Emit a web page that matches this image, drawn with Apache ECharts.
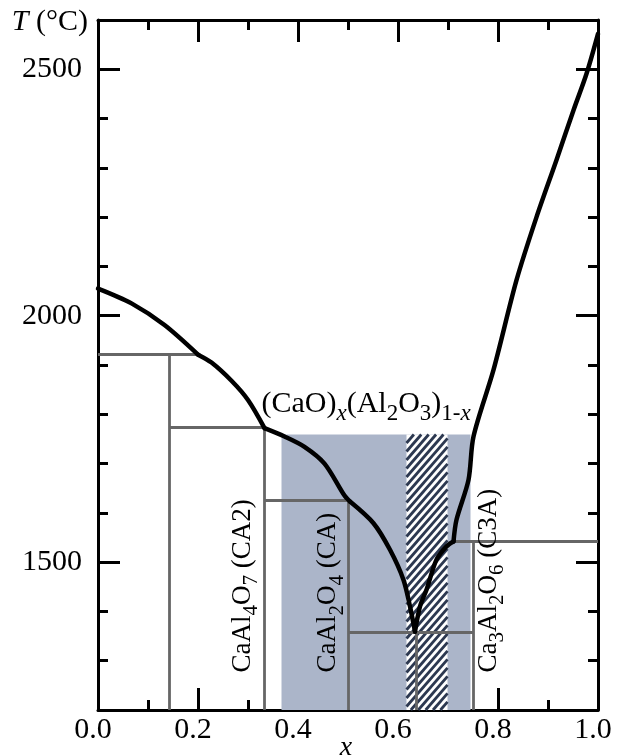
<!DOCTYPE html>
<html><head><meta charset="utf-8">
<script src="https://cdn.jsdelivr.net/npm/echarts@6/dist/echarts.min.js"></script>
<style>html,body{margin:0;padding:0;background:#fff}#c{width:619px;height:756px}</style>
</head><body><div id="c"></div>
<script>
// ---- data ----
const xMajorTicks = [0, 0.2, 0.4, 0.6, 0.8, 1.0];
const yMajorTicks = [1500, 2000, 2500];
// liquidus curve [x, T(°C)], split at its kinks
const liquidusCA6 = [[0, 2055], [0.067, 2025], [0.133, 1981], [0.2, 1921]];
const liquidusCA2 = [[0.2, 1921], [0.227, 1905], [0.267, 1868], [0.3, 1829], [0.333, 1772]];
const liquidusCA = [[0.333, 1772], [0.373, 1755], [0.413, 1734], [0.453, 1700], [0.493, 1635], [0.504, 1623]];
const liquidusEut = [[0.504, 1623], [0.551, 1579], [0.584, 1525], [0.611, 1464], [0.624, 1410], [0.634, 1359]];
const liquidusC3A = [[0.634, 1359], [0.644, 1410], [0.657, 1444], [0.677, 1505], [0.697, 1532], [0.711, 1542]];
const liquidusCaO = [[0.711, 1542], [0.717, 1586], [0.741, 1667], [0.751, 1755], [0.791, 1890], [0.837, 2072],
  [0.877, 2200], [0.917, 2316], [0.951, 2417], [0.977, 2491], [1.0, 2572]];
// gray phase-boundary segments
const phaseLines = [
  [[0, 1921], [0.205, 1921]],
  [[0.143, 1921], [0.143, 1200]],
  [[0.143, 1773], [0.333, 1773]],
  [[0.333, 1773], [0.333, 1200]],
  [[0.333, 1625], [0.502, 1625]],
  [[0.5, 1625], [0.5, 1200]],
  [[0.5, 1357], [0.75, 1357]],
  [[0.636, 1357], [0.636, 1200]],
  [[0.711, 1542], [1.0, 1542]],
  [[0.75, 1542], [0.75, 1200]]
];
// regions [x0, x1, T0, T1]
const shadedRegion = [0.367, 0.745, 1200, 1759];
const hatchedRegion = [0.617, 0.699, 1200, 1759];
// text labels
const labelTexts = [
  '{m|(CaO)}{sx|x}{m|(Al}{s|2}{m|O}{s|3}{m|)}{s|1-}{sx|x}',
  '{m|CaAl}{s|4}{m|O}{s|7}{m| (CA2)}',
  '{m|CaAl}{s|2}{m|O}{s|4}{m| (CA)}',
  '{m|Ca}{s|3}{m|Al}{s|2}{m|O}{s|6}{m| (C3A)}'
];
const labelAnchors = [[0.327, 1852], [0.262, 1276], [0.433, 1276], [0.754, 1276]];
const labelRotations = [0, 90, 90, 90];

// ---- chart ----
const FONT = 'Liberation Serif';
function richFor(big, small, pad) {
  return {
    m: { fontFamily: FONT, fontSize: big, lineHeight: big, verticalAlign: 'top', fill: '#000' },
    s: { fontFamily: FONT, fontSize: small, verticalAlign: 'top', padding: [pad, 0, 0, 0], fill: '#000' },
    sx: { fontFamily: FONT, fontStyle: 'italic', fontSize: small, verticalAlign: 'top', padding: [pad, 0, 0, 0], fill: '#000' }
  };
}
const richMain = richFor(30, 23, 14);
const richVert = richFor(27, 21, 12);

const axisLineStyle = { color: '#000', width: 3 };
function xAx(pos, major, withLine, withLabel) {
  return {
    type: 'value', min: 0, max: 1, interval: 0.1, position: pos,
    axisLine: { show: withLine, onZero: false, lineStyle: axisLineStyle },
    axisTick: Object.assign({ show: true, inside: true, length: major ? 22 : 10, lineStyle: { color: '#000', width: 3 } },
      major ? { customValues: xMajorTicks } : {}),
    axisLabel: withLabel ? {
      customValues: xMajorTicks, formatter: v => v.toFixed(1), margin: 5,
      fontFamily: FONT, fontSize: 30, color: '#000', verticalAlign: 'top', padding: [0, 10, 0, 0]
    } : { show: false },
    splitLine: { show: false },
    name: withLabel ? 'x' : '', nameLocation: 'middle', nameGap: 24, nameMoveOverlap: false,
    nameTextStyle: { fontFamily: FONT, fontStyle: 'italic', fontSize: 28, color: '#000', verticalAlign: 'top', padding: [0, 4, 0, 0] }
  };
}
function yAx(pos, major, withLine, withLabel) {
  return {
    type: 'value', min: 1200, max: 2600, interval: 100, position: pos,
    axisLine: { show: withLine, onZero: false, lineStyle: axisLineStyle },
    axisTick: Object.assign({ show: true, inside: true, length: major ? 22 : 10, lineStyle: { color: '#000', width: 3 } },
      major ? { customValues: yMajorTicks } : {}),
    axisLabel: withLabel ? {
      customValues: yMajorTicks, margin: 16, formatter: v => String(v),
      fontFamily: FONT, fontSize: 30, color: '#000'
    } : { show: false },
    splitLine: { show: false },
    name: withLabel ? '{i|T} (°C)' : '', nameLocation: 'end', nameGap: -2, nameMoveOverlap: false,
    nameTextStyle: {
      fontFamily: FONT, fontSize: 30, color: '#000', align: 'right', verticalAlign: 'middle', padding: [0, 10, 0, 0],
      rich: { i: { fontFamily: FONT, fontStyle: 'italic', fontSize: 30, color: '#000' } }
    }
  };
}
function curve(data) {
  return { type: 'line', data, showSymbol: false, symbol: 'none', smooth: 0.3, silent: true,
    lineStyle: { color: '#000', width: 4.5, join: 'round', cap: 'round' }, z: 5 };
}

const chart = echarts.init(document.getElementById('c'), null, { renderer: 'canvas' });
chart.setOption({
  animation: false,
  backgroundColor: '#fff',
  grid: { left: 98, right: 21, top: 20, bottom: 46, containLabel: false, outerBoundsMode: 'none' },
  xAxis: [xAx('bottom', false, true, true), xAx('bottom', true, false, false), xAx('top', false, true, false), xAx('top', true, false, false)],
  yAxis: [yAx('left', false, true, true), yAx('left', true, false, false), yAx('right', false, true, false), yAx('right', true, false, false)],
  series: [
    {
      type: 'custom', name: 'shaded', data: [shadedRegion], silent: true,
      renderItem: (p, api) => {
        const a = api.coord([api.value(0), api.value(3)]);
        const b = api.coord([api.value(1), api.value(2)]);
        return { type: 'rect', shape: { x: a[0], y: a[1], width: b[0] - a[0], height: b[1] - a[1] }, style: { fill: '#abb5c9' } };
      }
    },
    {
      type: 'custom', name: 'hatched', data: [hatchedRegion], silent: true,
      renderItem: (p, api) => {
        const a = api.coord([api.value(0), api.value(3)]);
        const b = api.coord([api.value(1), api.value(2)]);
        const L = a[0], R = b[0], T = a[1], B = b[1];
        const children = [{ type: 'rect', shape: { x: L, y: T, width: R - L, height: B - T }, style: { fill: '#ffffff' } }];
        const k = 1.15, step = 8.5; // y = c - k x
        for (let c = T + k * L; c <= B + k * R + step; c += step) {
          let xa = Math.max(L, (c - B) / k), xb = Math.min(R, (c - T) / k);
          if (xb <= xa) continue;
          children.push({ type: 'line', shape: { x1: xa, y1: c - k * xa, x2: xb, y2: c - k * xb },
            style: { stroke: '#2c3850', lineWidth: 2.8 } });
        }
        return { type: 'group', children };
      }
    },
    {
      type: 'lines', coordinateSystem: 'cartesian2d', name: 'phase lines', silent: true,
      data: phaseLines.map(s => ({ coords: s })),
      lineStyle: { color: '#666666', width: 2.8, opacity: 1 }
    },
    curve(liquidusCA6), curve(liquidusCA2), curve(liquidusCA), curve(liquidusEut), curve(liquidusC3A), curve(liquidusCaO),
    {
      type: 'custom', name: 'labels', silent: true, z: 6,
      data: labelAnchors.map((a, i) => [a[0], a[1], i]),
      renderItem: (p, api) => {
        const i = api.value(2);
        const pt = api.coord([api.value(0), api.value(1)]);
        const isMain = i === 0;
        return {
          type: 'text', x: pt[0], y: pt[1], rotation: labelRotations[i] * Math.PI / 180,
          style: {
            text: labelTexts[i], rich: isMain ? richMain : richVert,
            fontFamily: FONT, fontSize: isMain ? 30 : 27, fill: '#000',
            align: 'left', verticalAlign: 'top'
          }
        };
      }
    }
  ]
});
</script></body></html>
